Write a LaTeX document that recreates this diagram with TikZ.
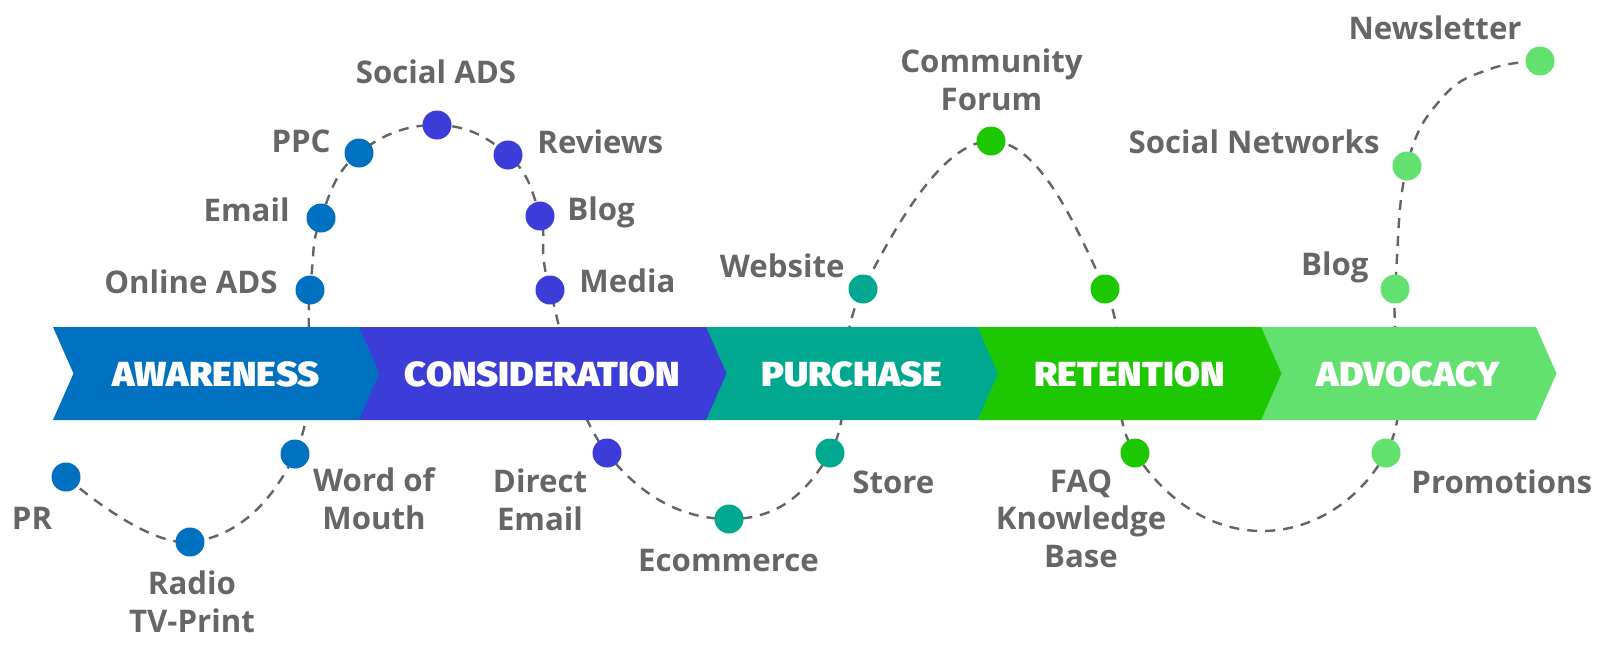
\documentclass[tikz,border=0pt]{standalone}
\usepackage{fontspec}
\setmainfont{Open Sans}
\newfontfamily\bandfont[FakeStretch=1.08]{Fira Sans Black}
\definecolor{aw}{RGB}{0,112,192}
\definecolor{co}{RGB}{60,60,216}
\definecolor{pu}{RGB}{0,168,144}
\definecolor{re}{RGB}{30,200,0}
\definecolor{ad}{RGB}{98,224,112}
\definecolor{lbl}{RGB}{102,102,102}
\definecolor{dashc}{RGB}{100,100,100}
\tikzset{
  dot/.style={circle, fill=#1, minimum size=14.5pt, inner sep=0pt},
  lab/.style={font=\bfseries\fontsize{15.6}{18.75}\selectfont, text=lbl, inner sep=0pt, align=center},
  stagetext/.style={font=\bandfont\fontsize{17.4}{20}\selectfont, text=white, inner sep=0pt, anchor=base},
  journey/.style={draw=dashc, line width=1.2pt, dash pattern=on 5pt off 4pt},
}
\begin{document}
\begin{tikzpicture}[x=0.5pt,y=-0.5pt]
\useasboundingbox (0,0) rectangle (1600,655);
% dot centres
\coordinate (cPR) at (66,477);
\coordinate (cRadio) at (190,542);
\coordinate (cWoM) at (295,454);
\coordinate (cOnline) at (310,290);
\coordinate (cEmail) at (321,218);
\coordinate (cPPC) at (359,153);
\coordinate (cSocAds) at (437,125);
\coordinate (cReviews) at (508,155);
\coordinate (cBlog) at (540,216);
\coordinate (cMedia) at (550,290);
\coordinate (cDirect) at (607,453);
\coordinate (cEcom) at (729,519);
\coordinate (cStore) at (830,453);
\coordinate (cWeb) at (863,289);
\coordinate (cForum) at (991,141);
\coordinate (cRet) at (1105,289);
\coordinate (cFAQ) at (1135,453);
\coordinate (cLow) at (1262,531);
\coordinate (cPromo) at (1386,453);
\coordinate (cBlogB) at (1395,289);
\coordinate (cSocNet) at (1407,166);
\coordinate (cH1) at (1442,98);
\coordinate (cH2) at (1490,69);
\coordinate (cNews) at (1540,61);
% dashed journey line
\draw[journey] plot[smooth, tension=0.72] coordinates {(cPR) (cRadio) (cWoM) (cOnline) (cEmail) (cPPC) (cSocAds) (cReviews) (cBlog) (cMedia) (cDirect) (cEcom) (cStore) (cWeb) (cForum) (cRet) (cFAQ) (cLow) (cPromo) (cBlogB) (cSocNet) (cH1) (cH2) (cNews)};
% band
\fill[ad] (1261,327) -- (1536,327) -- (1556.5,373.5) -- (1536,420) -- (1261,420) -- cycle;
\fill[re] (977.5,327) -- (1261,327) -- (1281.5,373.5) -- (1261,420) -- (977.5,420) -- cycle;
\fill[pu] (706,327) -- (977.5,327) -- (998,373.5) -- (977.5,420) -- (706,420) -- cycle;
\fill[co] (359,327) -- (706,327) -- (726.5,373.5) -- (706,420) -- (359,420) -- cycle;
\fill[aw] (53,327) -- (359,327) -- (379.5,373.5) -- (359,420) -- (53,420) -- (73.5,373.5) -- cycle;
\node[stagetext] (sAw) at (216,386) {AWARENESS};
\node[stagetext] (sCo) at (542.5,386) {CONSIDERATION};
\node[stagetext] (sPu) at (852,386) {PURCHASE};
\node[stagetext] (sRe) at (1129.5,386) {RETENTION};
\node[stagetext] (sAd) at (1408.5,386) {ADVOCACY};
% dots
\node[dot=aw] (PR) at (cPR) {};
\node[dot=aw] (Radio) at (cRadio) {};
\node[dot=aw] (WoM) at (cWoM) {};
\node[dot=aw] (Online) at (cOnline) {};
\node[dot=aw] (Email) at (cEmail) {};
\node[dot=aw] (PPC) at (cPPC) {};
\node[dot=co] (SocAds) at (cSocAds) {};
\node[dot=co] (Reviews) at (cReviews) {};
\node[dot=co] (Blog) at (cBlog) {};
\node[dot=co] (Media) at (cMedia) {};
\node[dot=co] (Direct) at (cDirect) {};
\node[dot=pu] (Ecom) at (cEcom) {};
\node[dot=pu] (Store) at (cStore) {};
\node[dot=pu] (Web) at (cWeb) {};
\node[dot=re] (Forum) at (cForum) {};
\node[dot=re] (Ret) at (cRet) {};
\node[dot=re] (FAQ) at (cFAQ) {};
\node[dot=ad] (Promo) at (cPromo) {};
\node[dot=ad] (BlogB) at (cBlogB) {};
\node[dot=ad] (SocNet) at (cSocNet) {};
\node[dot=ad] (News) at (cNews) {};
% labels (multi-line: base anchor = last line)
\node[lab, anchor=base east] (lPR) at (52.5,529) {PR};
\node[lab, anchor=base] (lRadio) at (192,632) {Radio\\TV-Print};
\node[lab, anchor=base] (lWoM) at (374,529) {Word of\\Mouth};
\node[lab, anchor=base east] (lOnline) at (278,293) {Online ADS};
\node[lab, anchor=base east] (lEmail) at (290,221) {Email};
\node[lab, anchor=base east] (lPPC) at (331,152) {PPC};
\node[lab, anchor=base] (lSocAds) at (436,83) {Social ADS};
\node[lab, anchor=base west] (lReviews) at (537,153) {Reviews};
\node[lab, anchor=base west] (lBlog) at (567,220) {Blog};
\node[lab, anchor=base west] (lMedia) at (579,292) {Media};
\node[lab, anchor=base] (lDirect) at (540,530) {Direct\\Email};
\node[lab, anchor=base] (lEcom) at (728.5,571) {Ecommerce};
\node[lab, anchor=base west] (lStore) at (852,493) {Store};
\node[lab, anchor=base east] (lWeb) at (845,277) {Website};
\node[lab, anchor=base] (lForum) at (991.5,110) {Community\\Forum};
\node[lab, anchor=base] (lFAQ) at (1081,567) {FAQ\\Knowledge\\Base};
\node[lab, anchor=base west] (lPromo) at (1411,493) {Promotions};
\node[lab, anchor=base east] (lBlogB) at (1369,275) {Blog};
\node[lab, anchor=base east] (lSocNet) at (1380,153) {Social Networks};
\node[lab, anchor=base east] (lNews) at (1522,39) {Newsletter};
\end{tikzpicture}
\end{document}
